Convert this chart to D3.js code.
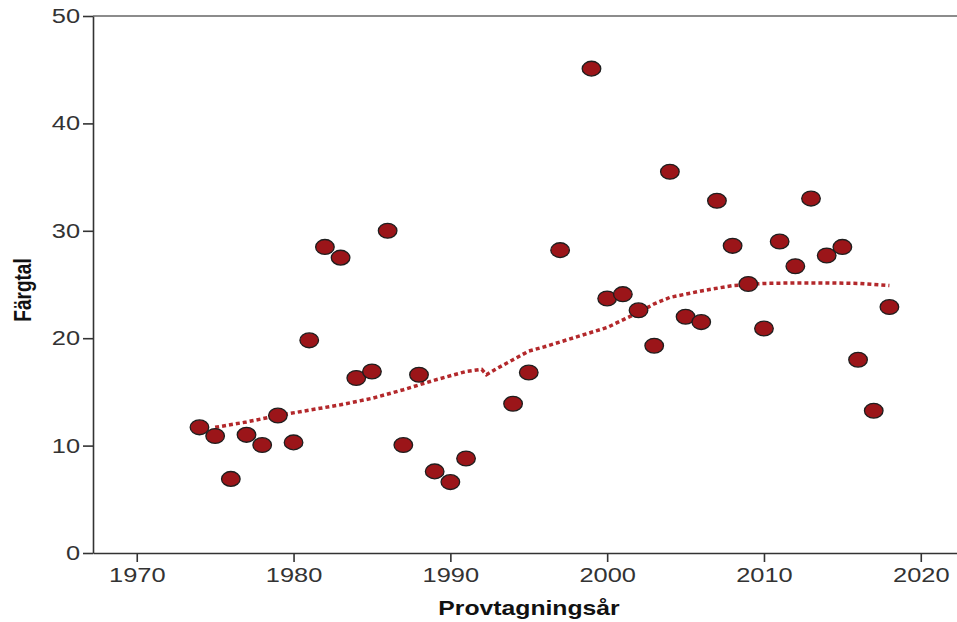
<!DOCTYPE html>
<html>
<head>
<meta charset="utf-8">
<script src="https://cdn.jsdelivr.net/npm/d3@7"></script>
<style>
  body { margin: 0; background: #fff; }
  svg { display: block; }
</style>
</head>
<body>
<div class="chart"></div>
<script>
// observations (year, colour value)
var years = [1974, 1975, 1976, 1977, 1978, 1979, 1980, 1981, 1982, 1983, 1984, 1985, 1986, 1987, 1988, 1989, 1990, 1991,
             1994, 1995, 1997, 1999, 2000, 2001, 2002, 2003, 2004, 2005, 2006, 2007, 2008, 2009, 2010, 2011, 2012, 2013,
             2014, 2015, 2016, 2017, 2018];
var fargtal = [11.7, 10.9, 6.9, 11.0, 10.05, 12.8, 10.3, 19.8, 28.5, 27.5, 16.3, 16.9, 30.0, 10.05, 16.6, 7.6, 6.6, 8.8,
               13.9, 16.8, 28.2, 45.1, 23.7, 24.1, 22.6, 19.3, 35.5, 22.0, 21.5, 32.8, 28.6, 25.05, 20.9, 29.0, 26.7, 33.0,
               27.7, 28.5, 18.0, 13.25, 22.9];

// smoothed (loess) line
var loessYears = [1975, 1977, 1979, 1981, 1983, 1985, 1987, 1989, 1991, 1992, 1992.3, 1993, 1994, 1995, 1996, 1998,
                  2000, 2002, 2003, 2004, 2006, 2008, 2010, 2012, 2014, 2016, 2018];
var loessValues = [11.7, 12.2, 12.8, 13.3, 13.8, 14.4, 15.2, 16.1, 16.9, 17.1, 16.6, 17.2, 18.0, 18.8, 19.2, 20.1,
                   21.0, 22.4, 23.2, 23.8, 24.4, 24.9, 25.1, 25.15, 25.15, 25.1, 24.9];

var xTicks = [1970, 1980, 1990, 2000, 2010, 2020];
var yTicks = [0, 10, 20, 30, 40, 50];

var svgWidth = 957;
var svgHeight = 622;
var stretch = 1.27; // the original is widened horizontally

var svg = d3.select(".chart")
    .append("svg")
    .attr("width", svgWidth)
    .attr("height", svgHeight);

var xScale = d3.scaleLinear()
    .domain([1967.21, 2022.31])
    .range([93, 957]);

var yScale = d3.scaleLinear()
    .domain([0, 50])
    .range([553, 16]);

// top frame line
svg.append("line")
    .attr("x1", 93).attr("x2", 957)
    .attr("y1", yScale(50)).attr("y2", yScale(50))
    .attr("stroke", "#8c8c8c")
    .attr("stroke-width", 2);

// axes
var bottomAxis = d3.axisBottom(xScale)
    .tickValues(xTicks)
    .tickFormat(d3.format("d"))
    .tickSize(9)
    .tickSizeOuter(0)
    .tickPadding(6);

var leftAxis = d3.axisLeft(yScale)
    .tickValues(yTicks)
    .tickSize(10)
    .tickSizeOuter(0)
    .tickPadding(3);

var gx = svg.append("g")
    .attr("transform", "translate(0," + yScale(0) + ")")
    .call(bottomAxis);

var gy = svg.append("g")
    .attr("transform", "translate(93,0)")
    .call(leftAxis);

[gx, gy].forEach(function(g) {
    g.select(".domain").attr("stroke", "#333").attr("stroke-width", 1.6);
    g.selectAll(".tick line").attr("stroke", "#333").attr("stroke-width", 1.6);
    g.selectAll(".tick text")
        .attr("fill", "#333")
        .style("font-family", "'Liberation Sans', Arial, sans-serif")
        .style("font-size", "20px");
});

gx.selectAll(".tick text").attr("transform", "scale(" + stretch + ",1)");
gy.selectAll(".tick text")
    .attr("x", -13 / stretch)
    .attr("transform", "scale(" + stretch + ",1)");

// loess line
var line = d3.line()
    .x(function(d, i) { return xScale(loessYears[i]); })
    .y(function(d) { return yScale(d); });

svg.append("path")
    .datum(loessValues)
    .attr("d", line)
    .attr("fill", "none")
    .attr("stroke", "#b3282b")
    .attr("stroke-width", 3.5)
    .attr("stroke-dasharray", "4,3");

// points
svg.append("g")
    .selectAll("ellipse")
    .data(years)
    .enter()
    .append("ellipse")
    .attr("cx", function(d) { return xScale(d); })
    .attr("cy", function(d, i) { return yScale(fargtal[i]); })
    .attr("rx", 9.3)
    .attr("ry", 7.4)
    .attr("fill", "#9b1519")
    .attr("stroke", "#1e1e1e")
    .attr("stroke-width", 1.3);

// axis titles
svg.append("text")
    .attr("transform", "translate(529,615) scale(" + stretch + ",1)")
    .attr("text-anchor", "middle")
    .style("font-family", "'Liberation Sans', Arial, sans-serif")
    .style("font-size", "19.5px")
    .style("font-weight", "bold")
    .attr("fill", "#111")
    .text("Provtagningsår");

svg.append("text")
    .attr("transform", "translate(31,290) scale(" + stretch + ",1) rotate(-90)")
    .attr("text-anchor", "middle")
    .style("font-family", "'Liberation Sans', Arial, sans-serif")
    .style("font-size", "19px")
    .style("font-weight", "bold")
    .attr("fill", "#111")
    .text("Färgtal");
</script>
</body>
</html>
